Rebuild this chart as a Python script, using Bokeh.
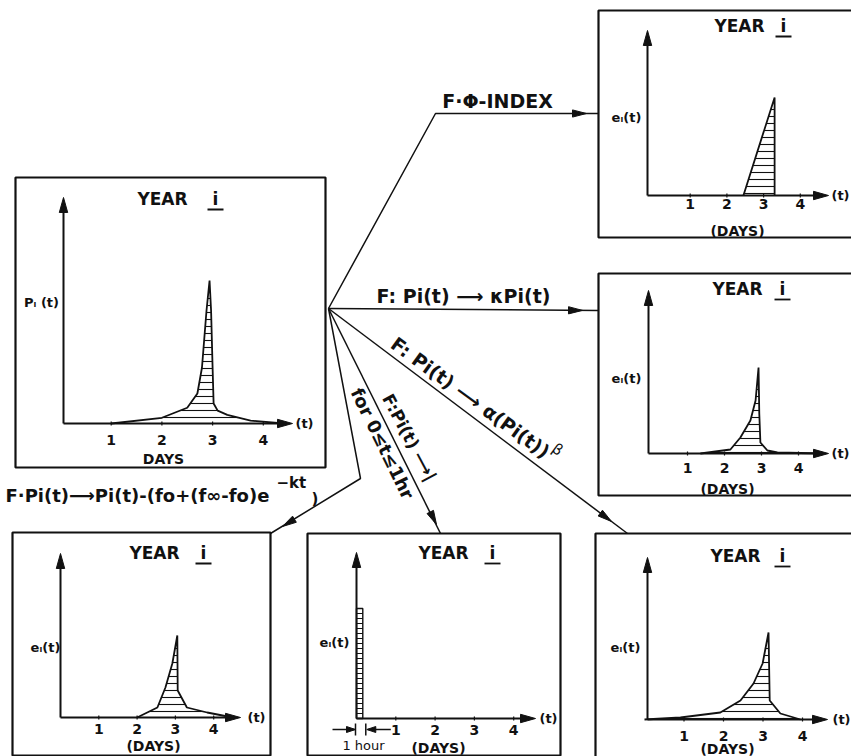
import numpy as np
from bokeh.plotting import figure
from bokeh.models import Range1d
from bokeh.core.properties import value
from bokeh.embed import file_html
from bokeh.resources import INLINE

# ------------------------------------------------------------------ data
tick_days = [1, 2, 3, 4]
tick_labels = ["1", "2", "3", "4"]

# P_i(t) in year i (relative units, peak = 100)
main_days = [1.0, 2.0, 2.5, 2.7, 2.79, 2.88, 2.94, 2.97, 3.0, 3.02, 3.1, 3.29, 3.75, 4.4]
main_vals = [0, 4, 11, 21, 39, 79, 100, 79, 39, 14, 9, 6, 2, 0]

# e_i(t) under the F-Phi-index rule
phi_days = [2.45, 3.3, 3.3]
phi_vals = [0, 98, 0]

# e_i(t) under F: Pi(t) -> k Pi(t)
kappa_days = [1.35, 2.16, 2.43, 2.70, 2.84, 2.92, 2.94, 2.97, 3.16, 3.43, 4.68]
kappa_vals = [0, 4, 16, 33, 53, 86, 40, 11, 3, 1, 0]

# e_i(t) under F: Pi(t) -> Pi(t) - (fo + (finf - fo) e^-kt)
horton_days = [2.0, 2.53, 2.74, 2.92, 3.05, 3.06, 3.3, 3.83, 4.5]
horton_vals = [0, 10, 30, 54, 82, 27, 10, 5, 0]

# e_i(t) under F: Pi(t) -> | for 0 <= t <= 1 hr
pulse_days = [0.0, 0.16]
pulse_vals = [110]

# e_i(t) under F: Pi(t) -> alpha (Pi(t))^beta
power_days = [0.0, 0.91, 1.92, 2.43, 2.76, 2.99, 3.14, 3.17, 3.44, 3.95]
power_vals = [0, 2, 7, 19, 36, 56, 87, 19, 6, 0]

# ------------------------------------------------------------------ layout (page pixels)
panels = {
    "main":   dict(box=(15, 177, 325, 467), ax=63, ay=423, ytop=197, xend=292, t0=60, sx=50.7, sy=1.43,
                   tick_y=439, days=("DAYS", 163, 458), tl=(304, 423), title=(162, 215, 198),
                   ylab=("Pᵢ (t)", 41, 302)),
    "phi":    dict(box=(598, 10, 880, 237), ax=647, ay=195, ytop=30, xend=828, t0=653, sx=36.7, sy=1.0,
                   tick_y=203, days=("(DAYS)", 737, 230), tl=(840, 195), title=(739, 783, 25),
                   ylab=("eᵢ(t)", 626, 117)),
    "kappa":  dict(box=(598, 273, 880, 495), ax=648, ay=453, ytop=290, xend=828, t0=650, sx=37.0, sy=1.0,
                   tick_y=467, days=("(DAYS)", 727, 488), tl=(840, 453), title=(737, 782, 288),
                   ylab=("eᵢ(t)", 626, 378)),
    "horton": dict(box=(12, 532, 270, 755), ax=60, ay=717, ytop=553, xend=240, t0=60, sx=38.3, sy=1.0,
                   tick_y=728, days=("(DAYS)", 153, 745), tl=(256, 717), title=(154, 203, 552),
                   ylab=("eᵢ(t)", 45, 647)),
    "pulse":  dict(box=(307, 533, 560, 755), ax=356, ay=718, ytop=552, xend=535, t0=356, sx=39.3, sy=1.0,
                   tick_y=729, days=("(DAYS)", 438, 747), tl=(548, 718), title=(443, 492, 552),
                   ylab=("eᵢ(t)", 334, 642)),
    "power":  dict(box=(595, 533, 880, 775), ax=647, ay=719, ytop=557, xend=827, t0=644, sx=39.5, sy=1.0,
                   tick_y=735, days=("(DAYS)", 727, 748), tl=(841, 719), title=(735, 782, 555),
                   ylab=("eᵢ(t)", 625, 647)),
}

FONT = value("DejaVu Sans")
INK = "#111111"

p = figure(width=851, height=756, x_range=Range1d(0, 851), y_range=Range1d(756, 0),
           output_backend="svg", toolbar_location=None, min_border=0)
p.axis.visible = False
p.grid.visible = False
p.outline_line_color = None
p.background_fill_color = "white"
p.border_fill_color = "white"

heads_x, heads_y = [], []


def head(tx, ty, dx, dy, L=14, W=3.6):
    n = np.hypot(dx, dy)
    ux, uy = dx / n, dy / n
    bx, by = tx - ux * L, ty - uy * L
    heads_x.append([tx, bx - uy * W, bx + uy * W])
    heads_y.append([ty, by + ux * W, by - ux * W])


def txt(x, y, s, size=14, style="bold", align="center", angle=0, baseline="middle"):
    p.text(x=[x], y=[y], text=[s], text_font=FONT, text_font_style=style,
           text_font_size=f"{size}px", text_align=align, text_baseline=baseline,
           angle=angle, angle_units="deg", text_color=INK)


def X(pn, t):
    return pn["t0"] + pn["sx"] * np.asarray(t, dtype=float)


def Y(pn, v):
    return pn["ay"] - pn["sy"] * np.asarray(v, dtype=float)


def frame(pn):
    l, t, r, b = pn["box"]
    p.quad(left=[l], right=[r], top=[t], bottom=[b], fill_color=None, line_color=INK, line_width=2.2)
    ax, ay = pn["ax"], pn["ay"]
    p.line([ax, ax], [ay, pn["ytop"] + 8], line_color=INK, line_width=2)
    head(ax, pn["ytop"], 0, -1, L=15, W=4.2)
    p.line([ax, pn["xend"] - 8], [ay, ay], line_color=INK, line_width=2)
    head(pn["xend"], ay, 1, 0, L=15, W=4.2)
    tx = X(pn, tick_days)
    p.segment(x0=tx, y0=[ay - 2] * 4, x1=tx, y1=[ay + 2] * 4, line_color=INK, line_width=1.2)
    for xx, lab in zip(tx, tick_labels):
        txt(xx, pn["tick_y"], lab, size=14)
    s, dxl, dyl = pn["days"]
    txt(dxl, dyl, s, size=14)
    txt(pn["tl"][0], pn["tl"][1], "(t)", size=13)
    yx, ix, yy = pn["title"]
    txt(yx, yy, "YEAR", size=17)
    txt(ix, yy, "i", size=17)
    p.line([ix - 8, ix + 8], [yy + 11, yy + 11], line_color=INK, line_width=1.8)
    lab, lx, ly = pn["ylab"]
    txt(lx, ly, lab, size=13)


def curve(pn, days, vals):
    xs, ys = X(pn, days), Y(pn, vals)
    p.patch(xs, ys, fill_color=None, line_color=None, hatch_pattern="horizontal_line",
            hatch_scale=7, hatch_weight=1.1, hatch_color=INK)
    p.line(xs, ys, line_color=INK, line_width=1.8)


for pn in panels.values():
    frame(pn)

curve(panels["main"], main_days, main_vals)
curve(panels["phi"], phi_days, phi_vals)
curve(panels["kappa"], kappa_days, kappa_vals)
curve(panels["horton"], horton_days, horton_vals)
curve(panels["power"], power_days, power_vals)

# pulse bar (1 hour)
pp = panels["pulse"]
bl, br = X(pp, pulse_days)
bt = Y(pp, pulse_vals[0])
p.quad(left=[bl], right=[br], top=[bt], bottom=[pp["ay"]], fill_color=None, line_color=INK,
       line_width=1.4, hatch_pattern="horizontal_line", hatch_scale=5, hatch_weight=1, hatch_color=INK)
dy = pp["tick_y"]
p.line([bl - 24, bl - 2], [dy, dy], line_color=INK, line_width=1.5)
head(bl - 1, dy, 1, 0, L=9, W=3)
p.segment(x0=[bl - 1, br + 3], y0=[dy - 6, dy - 6], x1=[bl - 1, br + 3], y1=[dy + 6, dy + 6],
          line_color=INK, line_width=1.5)
p.line([br + 5, br + 28], [dy, dy], line_color=INK, line_width=1.5)
head(br + 4, dy, -1, 0, L=9, W=3)
txt(bl + 7, 745, "1 hour", size=13, style="normal")

# ------------------------------------------------------------------ connectors
src = (328, 308)
conn = [
    [src, (435, 113), (598, 113)],
    [src, (598, 310)],
    [src, (627, 533)],
    [src, (440, 533)],
    [src, (360, 478), (270, 533)],
]
p.multi_line(xs=[[q[0] for q in c] for c in conn], ys=[[q[1] for q in c] for c in conn],
             line_color=INK, line_width=1.5)
head(586, 113, 1, 0)
head(582, 309.9, 270, 2)
head(611, 521, 299, 225)
head(436, 524, 112, 225)
head(282, 526, -90, 55)

p.patches(xs=heads_x, ys=heads_y, fill_color=INK, line_color=INK, line_width=1)

# connector labels
txt(497, 100, "F·Φ-INDEX", size=19)
txt(463, 295, "F: Pi(t) ⟶ κPi(t)", size=19)
txt(470, 397, "F: Pi(t) ⟶ α(Pi(t))", size=19, angle=-36)
txt(557, 449, "β", size=15, style="normal", angle=-36)
txt(409, 437, "F:Pi(t) ⟶|", size=17, angle=-62)
txt(382, 443, "for 0≤t≤1hr", size=18, angle=-64)
txt(5, 495, "F·Pi(t)⟶Pi(t)-(fo+(f∞-fo)e", size=18, align="left")
txt(276, 482, "−kt", size=15, align="left")
txt(311, 498, ")", size=15, align="left")

open("out.html", "w").write(file_html(p, INLINE))
